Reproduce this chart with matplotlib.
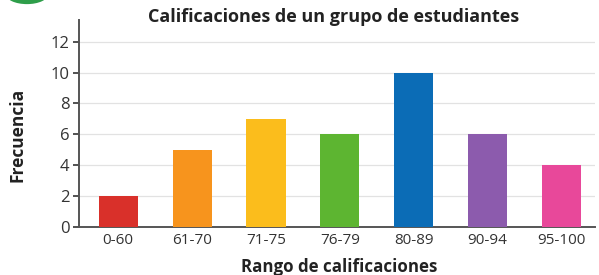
import matplotlib.pyplot as plt
from matplotlib.patches import Circle

rangos = ['0-60', '61-70', '71-75', '76-79', '80-89', '90-94', '95-100']
frecuencia = [2, 5, 7, 6, 10, 6, 4]
colores = ['#d9302a', '#f7941d', '#fbbd1c', '#5db531', '#0b6cb6', '#8c5bad', '#e8489a']

plt.rcParams['font.family'] = ['Open Sans', 'DejaVu Sans']

fig = plt.figure(figsize=(5.99, 2.75), dpi=100)
ax = fig.add_axes([0.132, 0.1745, 0.861, 0.7527])

ax.bar(range(len(rangos)), frecuencia, width=0.53, color=colores, zorder=3)

ax.set_xlim(-0.53, 6.45)
ax.set_ylim(0, 13.4)
ax.set_yticks(range(0, 13, 2))
ax.set_xticks(range(len(rangos)))
ax.set_xticklabels(rangos, fontsize=11, color='#333333')
ax.tick_params(axis='y', labelsize=12, colors='#333333', length=4, width=1.2, pad=3)
ax.tick_params(axis='x', length=0, pad=4)
ax.yaxis.grid(True, color='#e2e2e2', linewidth=0.9, zorder=0)

for s in ['top', 'right']:
    ax.spines[s].set_visible(False)
for s in ['left', 'bottom']:
    ax.spines[s].set_color('#555555')
    ax.spines[s].set_linewidth(1.4)

fig.text(0.557, 0.938, 'Calificaciones de un grupo de estudiantes', ha='center', va='center',
         fontsize=13, fontweight='bold', color='#222222')
fig.text(0.566, 0.012, 'Rango de calificaciones', ha='center', va='baseline',
         fontsize=12.2, fontweight='bold', color='#222222')
fig.text(0.03, 0.51, 'Frecuencia', ha='center', va='center', rotation=90,
         fontsize=12.5, fontweight='bold', color='#222222')

# green badge corner at top left
fig.patches.append(Circle((0.045, 1.02), 0.035, transform=fig.transFigure,
                          facecolor='#2e9e4a', edgecolor='none'))

fig.savefig('out.png', dpi=100)
